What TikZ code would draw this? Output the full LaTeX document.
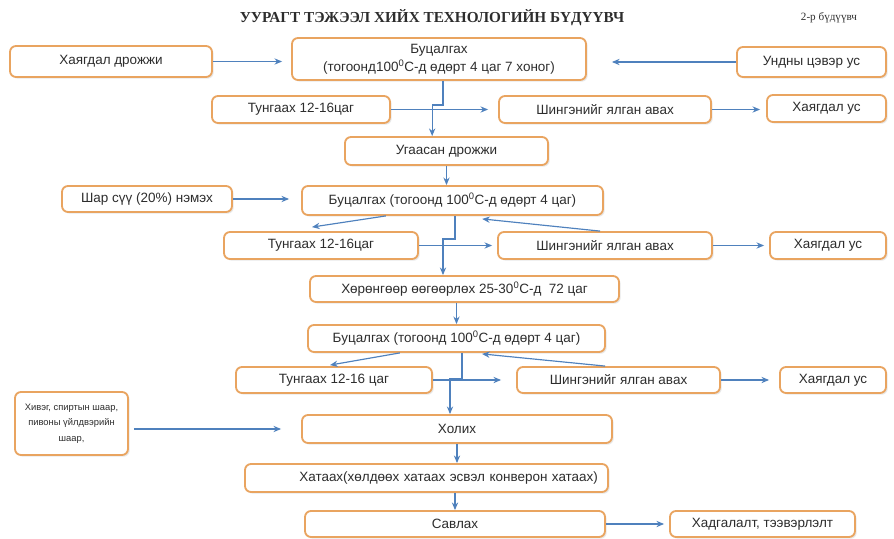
\documentclass[tikz,border=0pt]{standalone}
\usepackage{fontspec}
\setmainfont{Liberation Sans}
\newfontfamily\titlefont{Liberation Serif}
\usetikzlibrary{arrows.meta,shadows}

\definecolor{boxline}{RGB}{233,164,96}
\definecolor{flowblue}{RGB}{79,129,189}
\definecolor{textgray}{RGB}{45,45,45}

\begin{document}
\begin{tikzpicture}[x=0.3mm,y=-0.3mm,
			box node/.style={draw=boxline,line width=0.55mm,rounded corners=1.8mm,fill=white,
				drop shadow={opacity=0.18,shadow xshift=0.5mm,shadow yshift=-0.5mm},
				text=textgray,align=center,inner sep=0pt,font=\fontsize{11.5}{13.5}\selectfont},
			flow/.style={->,draw=flowblue,line width=0.35mm},
			>={Stealth[length=2.3mm,width=1.9mm]}
			]
			
			\def \pxl {0.3mm};
			\useasboundingbox (0,0) rectangle (894,539);
			
			% title
			\node[font=\titlefont\bfseries\fontsize{13}{15}\selectfont,text=textgray] (title) at (432,18) {УУРАГТ ТЭЖЭЭЛ ХИЙХ ТЕХНОЛОГИЙН БҮДҮҮВЧ};
			\node[font=\titlefont\fontsize{9.5}{11}\selectfont,text=textgray] (sheet) at (829,18) {2-р бүдүүвч};
			
			% first boiling
			\node[box node,minimum width=202*\pxl,minimum height=31*\pxl] (yeast) at (111,61.5) {Хаягдал дрожжи};
			\node[box node,minimum width=294*\pxl,minimum height=42*\pxl,font=\fontsize{11.5}{15.3}\selectfont] (boil1) at (439,59) {Буцалгах\\(тогоонд100\textsuperscript{0}С-д өдөрт 4 цаг 7 хоног)};
			\node[box node,minimum width=149*\pxl,minimum height=30*\pxl] (water) at (811.5,62) {Ундны цэвэр ус};
			\node[box node,minimum width=178*\pxl,minimum height=27*\pxl] (settle1) at (301,109.5) {Тунгаах 12-16цаг};
			\node[box node,minimum width=212*\pxl,minimum height=27*\pxl] (liquid1) at (605,109.5) {Шингэнийг ялган авах};
			\node[box node,minimum width=119*\pxl,minimum height=27*\pxl] (waste1) at (826.5,108.5) {Хаягдал ус};
			\node[box node,minimum width=203*\pxl,minimum height=28*\pxl] (washed) at (446.5,151) {Угаасан дрожжи};
			
			% second boiling
			\node[box node,minimum width=170*\pxl,minimum height=26*\pxl] (whey) at (147,199) {Шар сүү (20\%) нэмэх};
			\node[box node,minimum width=301*\pxl,minimum height=29*\pxl] (boil2) at (452.5,200.5) {Буцалгах (тогоонд 100\textsuperscript{0}С-д өдөрт 4 цаг)};
			\node[box node,minimum width=194*\pxl,minimum height=27*\pxl] (settle2) at (321,245.5) {Тунгаах 12-16цаг};
			\node[box node,minimum width=214*\pxl,minimum height=27*\pxl] (liquid2) at (605,245.5) {Шингэнийг ялган авах};
			\node[box node,minimum width=116*\pxl,minimum height=27*\pxl] (waste2) at (828,245.5) {Хаягдал ус};
			\node[box node,minimum width=309*\pxl,minimum height=26*\pxl] (ferment) at (464.5,289) {Хөрөнгөөр өөгөөрлөх 25-30\textsuperscript{0}С-д~ 72 цаг};
			
			% third boiling
			\node[box node,minimum width=297*\pxl,minimum height=27*\pxl] (boil3) at (456.5,338.5) {Буцалгах (тогоонд 100\textsuperscript{0}С-д өдөрт 4 цаг)};
			\node[box node,minimum width=196*\pxl,minimum height=26*\pxl] (settle3) at (334,380) {Тунгаах 12-16 цаг};
			\node[box node,minimum width=203*\pxl,minimum height=26*\pxl] (liquid3) at (618.5,380) {Шингэнийг ялган авах};
			\node[box node,minimum width=106*\pxl,minimum height=26*\pxl] (waste3) at (833,380) {Хаягдал ус};
			
			% mixing and finishing
			\node[box node,minimum width=113*\pxl,minimum height=63*\pxl,font=\fontsize{8}{13.2}\selectfont] (bran) at (71.5,423.5) {Хивэг, спиртын шаар,\\пивоны үйлдвэрийн\\шаар,};
			\node[box node,minimum width=310*\pxl,minimum height=28*\pxl] (mix) at (457,429) {Холих};
			\node[box node,minimum width=363*\pxl,minimum height=28*\pxl,text width=343*\pxl,align=right] (dry) at (426.5,478) {Хатаах(хөлдөөх хатаах эсвэл конверон хатаах)};
			\node[box node,minimum width=300*\pxl,minimum height=26*\pxl] (pack) at (455,524) {Савлах};
			\node[box node,minimum width=185*\pxl,minimum height=26*\pxl] (store) at (762.5,524) {Хадгалалт, тээвэрлэлт};
			
			% connectors, first boiling
			\draw[flow,shorten >=2.7mm] (yeast.east) -- (yeast.east -| boil1.west);
			\draw[flow,shorten >=7.5mm] (water.west) -- (water.west -| boil1.east);
			\draw[flow] ([xshift=1.2mm]boil1.south) -- ++(0,24) -| ([xshift=-4.3mm]washed.north);
			\draw[flow,shorten >=3mm] (settle1.east) -- (settle1.east -| liquid1.west);
			\draw[flow,shorten >=1.8mm] (liquid1.east) -- (liquid1.east -| waste1.west);
			\draw[flow] (washed.south) -- (washed.south |- boil2.north);
			
			% connectors, second boiling
			\draw[flow,shorten >=3.6mm] (whey.east) -- (whey.east -| boil2.west);
			\draw[flow] ([xshift=-20mm]boil2.south) -- ([xshift=-2.7mm,yshift=1.2mm]settle2.north);
			\draw[flow] ([xshift=-1.5mm]liquid2.north) -- ([xshift=8.9mm,yshift=-0.9mm]boil2.south);
			\draw[flow] ([xshift=0.75mm]boil2.south) -- ++(0,23) -| ([xshift=-6.45mm]ferment.north);
			\draw[flow,shorten >=1.5mm] (settle2.east) -- (settle2.east -| liquid2.west);
			\draw[flow,shorten >=1.5mm] (liquid2.east) -- (liquid2.east -| waste2.west);
			\draw[flow] (ferment.south -| boil3.north) -- (boil3.north);
			
			% connectors, third boiling
			\draw[flow] ([xshift=-17mm]boil3.south) -- ([xshift=-1.2mm,yshift=0.3mm]settle3.north);
			\draw[flow] ([xshift=-4mm]liquid3.north) -- ([xshift=7.65mm,yshift=-0.3mm]boil3.south);
			\draw[flow] ([xshift=1.65mm]boil3.south) -- ++(0,26) -| ([xshift=-2.1mm]mix.north);
			\draw[flow,shorten >=4.5mm] (settle3.east) -- (settle3.east -| liquid3.west);
			\draw[flow,shorten >=3mm] (liquid3.east) -- (liquid3.east -| waste3.west);
			
			% connectors, finishing
			\draw[flow,shorten <=1.5mm,shorten >=6mm] (bran.east |- mix.west) -- (mix.west);
			\draw[flow] (mix.south) -- (mix.south |- dry.north);
			\draw[flow] (dry.south -| pack.north) -- (pack.north);
			\draw[flow,shorten >=1.5mm] (pack.east) -- (pack.east -| store.west);
			
			\end{tikzpicture}
\end{document}
